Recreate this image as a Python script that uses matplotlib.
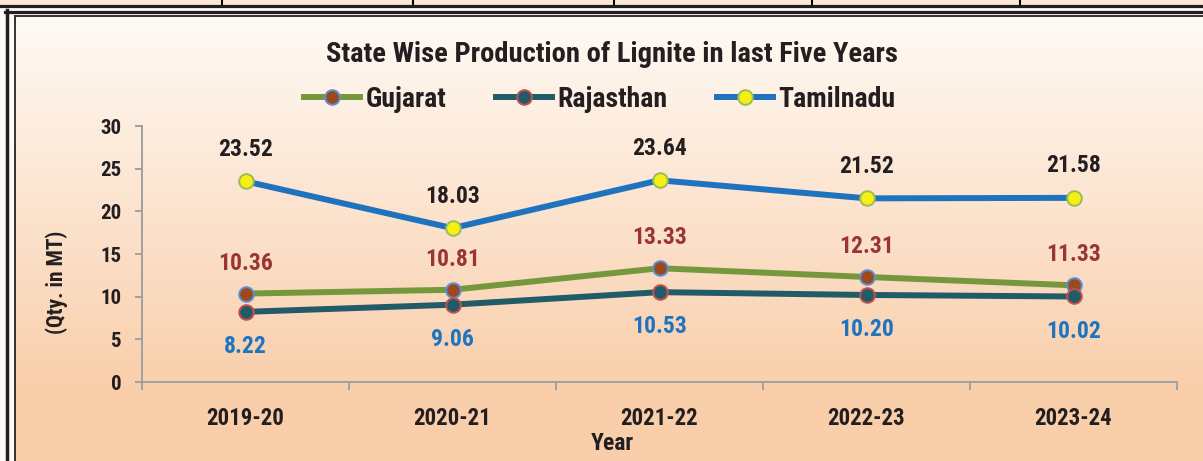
import numpy as np
import matplotlib.pyplot as plt
from matplotlib.lines import Line2D
from matplotlib.patches import Rectangle

years = ['2019-20', '2020-21', '2021-22', '2022-23', '2023-24']
gujarat = [10.36, 10.81, 13.33, 12.31, 11.33]
rajasthan = [8.22, 9.06, 10.53, 10.20, 10.02]
tamilnadu = [23.52, 18.03, 23.64, 21.52, 21.58]

W, H = 1203, 461
plt.rcParams['font.family'] = ['Roboto Condensed', 'DejaVu Sans']
plt.rcParams['font.weight'] = 'bold'
txt = '#231f20'


def fx(px):
    return px / W


def fy(py):
    return 1 - py / H


fig = plt.figure(figsize=(W / 100, H / 100), dpi=100)
fig.patch.set_facecolor('#fffaf5')

# peach gradient behind the chart
bg = fig.add_axes([fx(15), 0, 1 - fx(15), fy(16)], zorder=0)
g = np.clip(np.linspace(0, 1, 256) / 0.85, 0, 1)[:, None, None]
top = np.array([255, 250, 245]) / 255
bot = np.array([249, 206, 170]) / 255
bg.imshow(top + (bot - top) * g, aspect='auto', extent=[0, 1, 0, 1])
bg.axis('off')

# bits of the page around the chart: table row above, double frame
fig.add_artist(Rectangle((0, fy(5)), 1, fy(0) - fy(5), transform=fig.transFigure,
                         color='#fde7d6', zorder=1))
for xp in [222, 413, 614, 812, 1020]:
    fig.add_artist(Line2D([fx(xp)] * 2, [fy(0), fy(5)], transform=fig.transFigure,
                          color='k', lw=1.5, zorder=2))
fig.add_artist(Line2D([0, 1], [fy(6.2)] * 2, transform=fig.transFigure, color='#231f20', lw=2.3, zorder=2))
fig.add_artist(Line2D([fx(5), 1], [fy(11.8)] * 2, transform=fig.transFigure, color='#231f20', lw=2.3, zorder=2))
fig.add_artist(Line2D([fx(6.7)] * 2, [fy(10.5), 0], transform=fig.transFigure, color='#231f20', lw=2.5, zorder=2))
fig.add_artist(Line2D([fx(14.7), 1], [fy(16.2)] * 2, transform=fig.transFigure, color='#333333', lw=1.4, zorder=2))
fig.add_artist(Line2D([fx(14.7)] * 2, [fy(16.2), 0], transform=fig.transFigure, color='#333333', lw=1.4, zorder=2))

ax = fig.add_axes([fx(142), fy(382), fx(1177) - fx(142), fy(126) - fy(382)], zorder=3)
ax.patch.set_alpha(0)
x = np.arange(len(years))

ax.plot(x, gujarat, color='#76983c', lw=4.3, marker='o', ms=10.5, mfc='#9b4a1f',
        mec='#5b8fd6', mew=1.4, label='Gujarat', clip_on=False)
ax.plot(x, rajasthan, color='#225b68', lw=4.3, marker='o', ms=10.5, mfc='#225b68',
        mec='#c6504d', mew=1.4, label='Rajasthan', clip_on=False)
ax.plot(x, tamilnadu, color='#1f72be', lw=4.3, marker='o', ms=10.5, mfc='#f6ef12',
        mec='#9bbb59', mew=1.4, label='Tamilnadu', clip_on=False)

for i in x:
    ax.annotate(f'{tamilnadu[i]:.2f}', (i, tamilnadu[i]), xytext=(0, 23), textcoords='offset points',
                ha='center', va='center', fontsize=17, color=txt)
    ax.annotate(f'{gujarat[i]:.2f}', (i, gujarat[i]), xytext=(0, 22), textcoords='offset points',
                ha='center', va='center', fontsize=17, color='#9b3535')
    ax.annotate(f'{rajasthan[i]:.2f}', (i, rajasthan[i]), xytext=(0, -25), textcoords='offset points',
                ha='center', va='center', fontsize=17, color='#1f74c1')

ax.set_xlim(-0.5, 4.5)
ax.set_ylim(0, 30)
for s in ['top', 'right']:
    ax.spines[s].set_visible(False)
for s in ['left', 'bottom']:
    ax.spines[s].set_color('#a0a0a0')
    ax.spines[s].set_linewidth(1.4)

ax.set_yticks(range(0, 31, 5))
ax.tick_params(axis='y', length=5, width=1.4, color='#a0a0a0', labelsize=15, pad=10, labelcolor=txt)
ax.set_xticks(x)
ax.set_xticklabels(years)
ax.set_xticks(np.arange(-0.5, 5), minor=True)
ax.tick_params(axis='x', which='major', length=0, labelsize=16.5, pad=18, labelcolor=txt)
ax.tick_params(axis='x', which='minor', length=6, width=1.4, color='#a0a0a0')

fig.text(fx(612), fy(54), 'State Wise Production of Lignite in last Five Years',
         ha='center', va='center', fontsize=20.5, color=txt)
fig.text(fx(612), fy(443), 'Year', ha='center', va='center', fontsize=17, color=txt)
fig.text(fx(57), fy(282), '(Qty. in MT)', ha='center', va='center', rotation=90,
         fontsize=15.5, color=txt)

fig.legend(*ax.get_legend_handles_labels(), loc='center', bbox_to_anchor=(fx(600), fy(99)),
           ncol=3, frameon=False, fontsize=20, handlelength=2.0, handletextpad=0.2,
           columnspacing=1.8, labelcolor=txt)

fig.savefig('out.png', dpi=100)
